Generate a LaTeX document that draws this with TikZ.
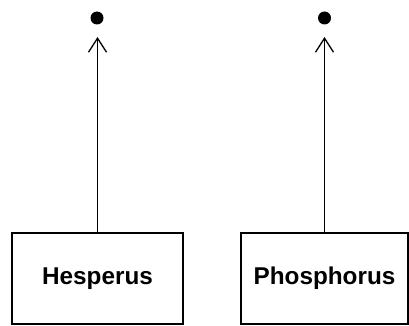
\documentclass[tikz,border=0pt]{standalone}
\usepackage{fontspec}
\setmainfont{Liberation Sans}
\usetikzlibrary{arrows.meta}
\begin{document}
\begin{tikzpicture}[x=1pt,y=-1pt,
  box/.style={draw, line width=1.5pt, minimum height=91pt, inner sep=0pt,
    font=\fontsize{24.3pt}{28pt}\selectfont\bfseries},
  dotnode/.style={circle, fill, inner sep=0pt, minimum size=13pt},
  link/.style={line width=1.3pt, -{Straight Barb[length=14pt,width=18pt,line width=1.3pt]}}]
\useasboundingbox (0,0) rectangle (409,326);
\node[box, minimum width=171pt] (hes) at (97.5,278.5) {Hesperus};
\node[box, minimum width=167pt] (pho) at (324.5,278.5) {Phosphorus};
\node[dotnode] (d1) at (97,18) {};
\node[dotnode] (d2) at (324.5,18) {};
\coordinate (t1) at (97.5,37);
\coordinate (t2) at (324.5,37);
\draw[link] (hes.north) -- (t1);
\draw[link] (pho.north) -- (t2);
\end{tikzpicture}
\end{document}
